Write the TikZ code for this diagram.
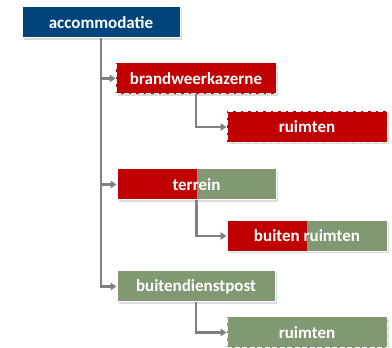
\documentclass[tikz,border=0pt]{standalone}
\usepackage{fontspec}
\setmainfont{Carlito}
\usetikzlibrary{arrows.meta,shadows}
\definecolor{navy}{RGB}{0,68,124}
\definecolor{dred}{RGB}{192,0,0}
\definecolor{sage}{RGB}{128,153,115}
\definecolor{conn}{RGB}{128,128,128}
\tikzset{
  box/.style={minimum width=160pt, minimum height=31pt, inner sep=0pt, text=white,
    font=\fontsize{17}{19}\selectfont\bfseries, draw=white, line width=1pt,
    drop shadow={shadow xshift=1.8pt, shadow yshift=-1.8pt, fill=black!28}},
  dashbox/.style={box, dash pattern=on 5pt off 2.5pt},
  splitbox/.style={box, path picture={
    \fill[dred] (path picture bounding box.south west) rectangle (path picture bounding box.north);
    \fill[sage] (path picture bounding box.south) rectangle (path picture bounding box.north east);}},
  connector/.style={draw=conn, line width=2.4pt, -{Triangle[length=6pt,width=7.5pt]}},
}
\begin{document}
\begin{tikzpicture}[x=1pt,y=1pt]
\useasboundingbox (0,0) rectangle (392,348);
\begin{scope}
\clip (0,0) rectangle (392,348);
\node[box, fill=navy, minimum width=158pt] (acc) at (101,325.5) {accommodatie};
\node[dashbox, fill=dred] (bwk) at (196,269.5) {brandweerkazerne};
\node[dashbox, fill=dred] (r1) at (307,221) {ruimten};
\node[splitbox, minimum width=159pt] (ter) at (196.5,163.5) {terrein};
\node[splitbox] (br) at (307,112) {buiten ruimten};
\node[box, fill=sage, minimum width=158pt] (bdp) at (196,61.5) {buitendienstpost};
\node[dashbox, fill=sage] (r3) at (307,15.5) {ruimten};
\end{scope}
\draw[connector] (acc.south) |- (bwk.west);
\draw[connector] (acc.south) |- (ter.west);
\draw[connector] (acc.south) |- (bdp.west);
\draw[connector] (bwk.south) |- (r1.west);
\draw[connector] (ter.south) |- (br.west);
\draw[connector] (bdp.south) |- (r3.west);
\end{tikzpicture}
\end{document}
